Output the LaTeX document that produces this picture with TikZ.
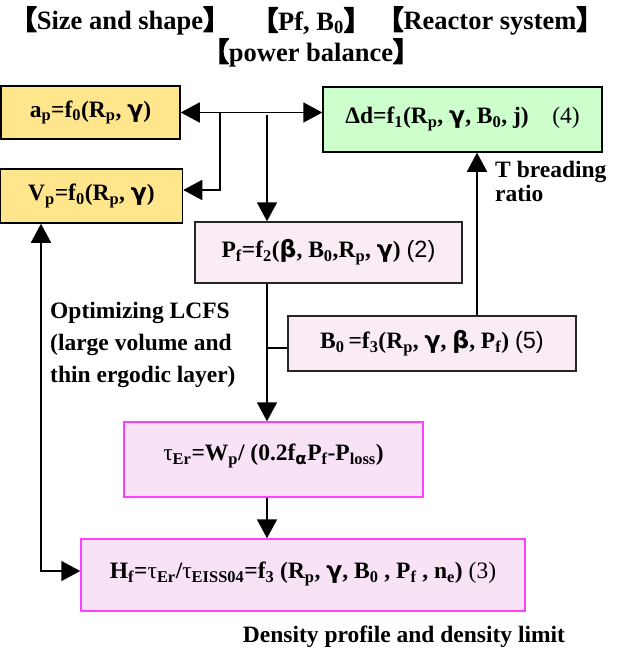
\documentclass[tikz,border=0pt]{standalone}
\usepackage{fontspec}
\setmainfont{Liberation Serif}
\newfontfamily\cjkf[FakeBold=6]{Noto Sans CJK SC}
\newfontfamily\gkfont{DejaVu Sans}
\newfontfamily\arialf{Liberation Sans}
\usetikzlibrary{arrows.meta}
\newcommand{\gam}{{\gkfont\bfseries γ}}
\newcommand{\bet}{{\gkfont\bfseries β}}
\newcommand{\alp}{{\gkfont\bfseries α}}
\newcommand{\lbr}{{\cjkf\mdseries 【}}
\newcommand{\rbr}{{\cjkf\mdseries 】}}
\newcommand{\sbs}[1]{\textsubscript{#1}}
\definecolor{yelfill}{RGB}{255,230,140}
\definecolor{grnfill}{RGB}{204,255,204}
\definecolor{pinkA}{RGB}{249,236,245}
\definecolor{pinkB}{RGB}{248,226,246}
\definecolor{magb}{RGB}{255,64,255}
\begin{document}
\begin{tikzpicture}[x=1pt,y=-1pt,
  font=\fontsize{23.5}{32}\selectfont\bfseries,
  >={Triangle[length=19pt,width=20pt]},
  bx/.style={draw=black, line width=1.5pt, inner sep=0pt},
  yelbox/.style={bx, fill=yelfill},
  grnbox/.style={bx, fill=grnfill},
  pkbox/.style={bx, draw=black!85, fill=pinkA},
  mgbox/.style={bx, draw=magb, fill=pinkB},
  conn/.style={line width=1.8pt, ->},
  plain/.style={line width=1.8pt},
  ttl/.style={inner sep=0pt, font=\fontsize{26.5}{32}\selectfont\bfseries},
  lbl/.style={inner sep=0pt, align=left}]
\useasboundingbox (0,0) rectangle (628,650);

% titles
\node[ttl] (t1) at (120,21) {\lbr Size and shape\rbr};
\node[ttl] (t2) at (311,21) {\lbr Pf, B\sbs{0}\rbr};
\node[ttl] (t3) at (490,21) {\lbr Reactor system\rbr};
\node[ttl] (t4) at (311,53) {\lbr power balance\rbr};

% boxes
\node[yelbox, minimum width=179pt, minimum height=53pt] (ap) at (90.5,112.5) {a\sbs{p}=f\sbs{0}(R\sbs{p}, \gam)};
\node[yelbox, minimum width=182pt, minimum height=54pt] (Vp) at (91.5,196) {V\sbs{p}=f\sbs{0}(R\sbs{p}, \gam)};
\node[grnbox, minimum width=279pt, minimum height=65pt, text depth=9pt] (dd) at (462.5,119.5) {Δd=f\sbs{1}(R\sbs{p}, \gam, B\sbs{0}, j)\quad{\mdseries (4)}};
\node[pkbox, minimum width=267pt, minimum height=61pt] (Pf) at (328.5,252.5) {P\sbs{f}=f\sbs{2}(\bet, B\sbs{0},R\sbs{p}, \gam) {\arialf\mdseries (2)}};
\node[pkbox, minimum width=288pt, minimum height=55pt] (B0) at (432,343.5) {B\sbs{0}\,=f\sbs{3}(R\sbs{p}, \gam, \bet, P\sbs{f}) {\arialf\mdseries (5)}};
\node[mgbox, minimum width=299pt, minimum height=75pt, text depth=15pt] (tau) at (273.5,459.5) {{\mdseries τ}\sbs{Er}=W\sbs{p}/ (0.2f\sbs{\alp}P\sbs{f}-P\sbs{loss})};
\node[mgbox, minimum width=444pt, minimum height=72pt, text depth=10pt] (Hf) at (303,575) {H\sbs{f}={\mdseries τ}\sbs{Er}/{\mdseries τ}\sbs{EISS04}=f\sbs{3} (R\sbs{p}, \gam, B\sbs{0} , P\sbs{f} , n\sbs{e}) {\mdseries (3)}};

% labels
\node[lbl, anchor=west] (tbr) at (495,181) {T breading\\[-8pt]ratio};
\node[lbl, anchor=west] (opt) at (50,345) {Optimizing LCFS\\(large volume and\\thin ergodic layer)};
\node[inner sep=0pt] (dens) at (404,637) {Density profile and density limit};

% junction points
\coordinate (j1) at (220,112);
\coordinate (j2) at (220,190);
\coordinate (j3) at (267,115);
\coordinate (j4) at (267,348);
\coordinate (j5) at (477,300);
\coordinate (c1) at (41,571);

% connectors
\draw[plain, <->] (ap.east) -- (ap.east -| dd.west);
\draw[conn] (j1) -- (j2) -- (j2 -| Vp.east);
\draw[conn] (j3) -- (j3 |- Pf.north);
\draw[conn] (j3 |- Pf.south) -- (j3 |- tau.north);
\draw[plain] (j4 -| B0.west) -- (j4);
\draw[conn] (j5 |- B0.north) -- (j5 |- dd.south);
\draw[conn] (j3 |- tau.south) -- (j3 |- Hf.north);
\draw[plain, <->] (c1 |- Vp.south) -- (c1) -- (c1 -| Hf.west);
\end{tikzpicture}
\end{document}
